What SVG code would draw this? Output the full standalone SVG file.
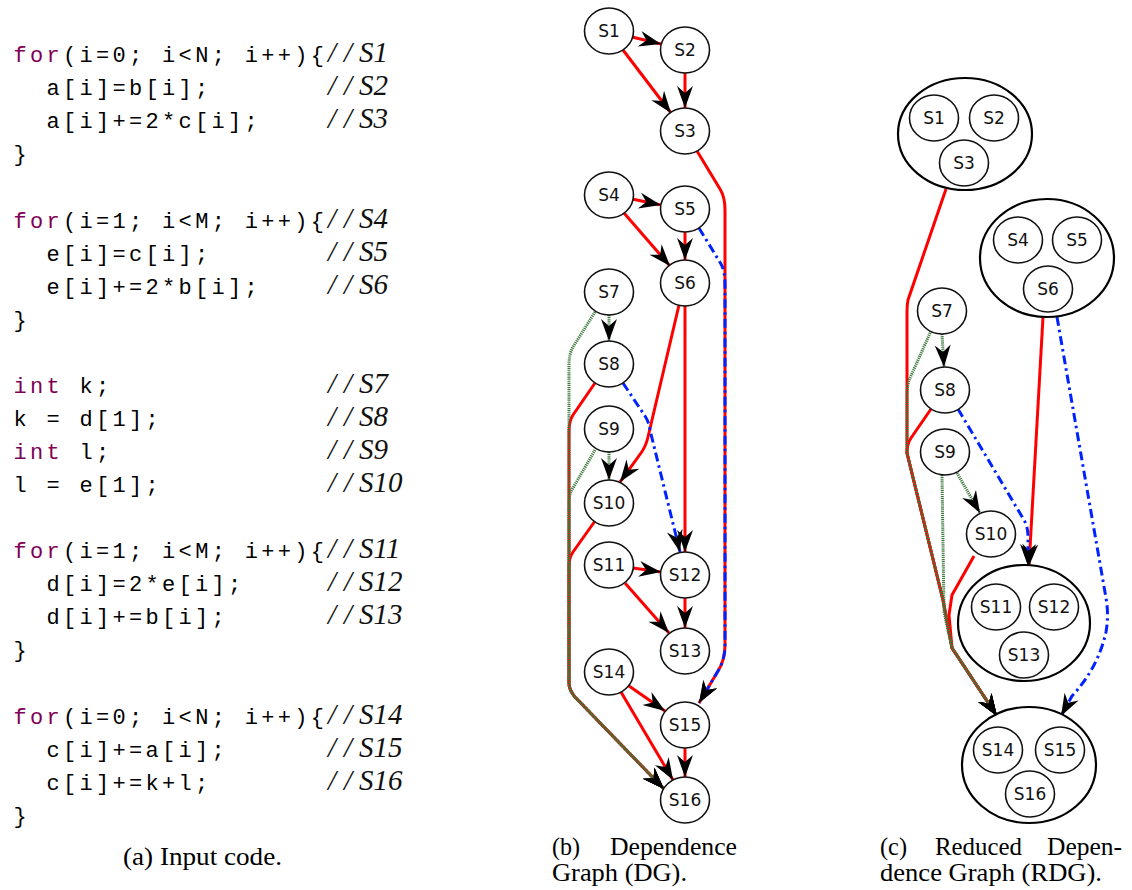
<svg xmlns="http://www.w3.org/2000/svg" width="1132" height="890" viewBox="0 0 1132 890">
<style>
.code{font-family:"Liberation Mono",monospace;font-size:22px;letter-spacing:3.3px;fill:#000}
.kw{fill:#7F0055}
.cm{font-family:"Liberation Serif",serif;font-style:italic;font-size:29px;fill:#111}
.cap{font-family:"Liberation Serif",serif;font-size:25px;fill:#000}
.n ellipse{fill:#fff;stroke:#111;stroke-width:1.6}
.n text{font-family:"DejaVu Sans",sans-serif;font-size:17px;text-anchor:middle;fill:#111}
.big{fill:#fff;stroke:#000;stroke-width:2.2}
.r{fill:none;stroke:#ff0000;stroke-width:3;marker-end:url(#arr)}
.bl{fill:none;stroke:#0022ff;stroke-width:3;stroke-dasharray:9 4 2.5 4;marker-end:url(#arr)}
.g{fill:none;stroke:#3c7a3c;stroke-width:3;stroke-dasharray:1.2 0.9;marker-end:url(#arr)}
</style>
<defs>
<marker id="arr" markerUnits="userSpaceOnUse" viewBox="-23 -9 24 18" refX="0" refY="0" markerWidth="24" markerHeight="18" orient="auto">
<path d="M0,0 L-22,-8 L-15,0 L-22,8 Z" fill="#000"/>
</marker>
</defs>
<rect width="1132" height="890" fill="#fff"/>

<g id="code">
<text class="code" x="13.6" y="62"><tspan class="kw">for</tspan>(i=0; i&lt;N; i++){</text>
<text class="code" x="46.6" y="95">a[i]=b[i];</text>
<text class="code" x="46.6" y="128">a[i]+=2*c[i];</text>
<text class="code" x="13.6" y="161">}</text>
<text class="code" x="13.6" y="228"><tspan class="kw">for</tspan>(i=1; i&lt;M; i++){</text>
<text class="code" x="46.6" y="261">e[i]=c[i];</text>
<text class="code" x="46.6" y="294">e[i]+=2*b[i];</text>
<text class="code" x="13.6" y="327">}</text>
<text class="code" x="13.6" y="393"><tspan class="kw">int</tspan> k;</text>
<text class="code" x="13.6" y="426">k = d[1];</text>
<text class="code" x="13.6" y="459"><tspan class="kw">int</tspan> l;</text>
<text class="code" x="13.6" y="492">l = e[1];</text>
<text class="code" x="13.6" y="558"><tspan class="kw">for</tspan>(i=1; i&lt;M; i++){</text>
<text class="code" x="46.6" y="591">d[i]=2*e[i];</text>
<text class="code" x="46.6" y="624">d[i]+=b[i];</text>
<text class="code" x="13.6" y="657">}</text>
<text class="code" x="13.6" y="724"><tspan class="kw">for</tspan>(i=0; i&lt;N; i++){</text>
<text class="code" x="46.6" y="757">c[i]+=a[i];</text>
<text class="code" x="46.6" y="790">c[i]+=k+l;</text>
<text class="code" x="13.6" y="823">}</text>
<text class="cm" x="328 344 359" y="62">//S1</text>
<text class="cm" x="328 344 359" y="95">//S2</text>
<text class="cm" x="328 344 359" y="128">//S3</text>
<text class="cm" x="328 344 359" y="228">//S4</text>
<text class="cm" x="328 344 359" y="261">//S5</text>
<text class="cm" x="328 344 359" y="294">//S6</text>
<text class="cm" x="328 344 359" y="393">//S7</text>
<text class="cm" x="328 344 359" y="426">//S8</text>
<text class="cm" x="328 344 359" y="459">//S9</text>
<text class="cm" x="328 344 359" y="492">//S10</text>
<text class="cm" x="328 344 359" y="558">//S11</text>
<text class="cm" x="328 344 359" y="591">//S12</text>
<text class="cm" x="328 344 359" y="624">//S13</text>
<text class="cm" x="328 344 359" y="724">//S14</text>
<text class="cm" x="328 344 359" y="757">//S15</text>
<text class="cm" x="328 344 359" y="790">//S16</text>
<text class="cap" x="123" y="865" textLength="159" lengthAdjust="spacingAndGlyphs">(a) Input code.</text>
</g>

<g id="dg-edges">
<path class="r" d="M632,37 L661,44"/>
<path class="r" d="M623,50 L671,113"/>
<path class="r" d="M685,73 L685,108"/>
<path class="r" d="M697,151 L720,189 Q725,197 725,210 L725,645 Q725,660 718,671 L699,703"/>
<path class="r" d="M632,199 L661,205"/>
<path class="r" d="M624,213 L670,266"/>
<path class="r" d="M685,232 L685,260"/>
<path class="r" d="M679,305 L648,437 Q646,446 641,453 L620,482"/>
<path class="r" d="M685,306 L685,552"/>
<path class="r" d="M595,383 L573,415 Q569,421 569,432 L569,683 Q569,690 575,697 L664,789"/>
<path class="r" d="M595,521 L573,552 Q569,558 569,566 L569,683 Q569,690 575,697 L664,789"/>
<path class="r" d="M633,568 L661,572"/>
<path class="r" d="M625,583 L669,633"/>
<path class="r" d="M685,598 L685,628"/>
<path class="r" d="M629,686 L665,711"/>
<path class="r" d="M621,692 L673,780"/>
<path class="r" d="M685,748 L685,777"/>
<path class="bl" d="M699,228 L721,264 Q725,271 725,285 L725,645 Q725,660 718,671 L699,703"/>
<path class="bl" d="M623,383 L645,416 Q649,422 650,430 L680,552"/>
<path class="g" d="M609,315 L609,341"/>
<path class="g" d="M609,452 L609,480"/>
<path class="g" d="M595,312 L573,347 Q569,354 569,365 L569,683 Q569,690 575,697 L664,789"/>
<path class="g" d="M595,450 L573,488 Q569,494 569,502 L569,683 Q569,690 575,697 L664,789"/>
</g>

<g id="dg-nodes">
<g id="b-S1" class="n"><ellipse cx="609" cy="31" rx="24.5" ry="23"/><text x="609" y="37">S1</text></g>
<g id="b-S2" class="n"><ellipse cx="685" cy="50" rx="24.5" ry="23"/><text x="685" y="56">S2</text></g>
<g id="b-S3" class="n"><ellipse cx="685" cy="131" rx="24.5" ry="23"/><text x="685" y="137">S3</text></g>
<g id="b-S4" class="n"><ellipse cx="609" cy="195" rx="24.5" ry="23"/><text x="609" y="201">S4</text></g>
<g id="b-S5" class="n"><ellipse cx="685" cy="209" rx="24.5" ry="23"/><text x="685" y="215">S5</text></g>
<g id="b-S6" class="n"><ellipse cx="685" cy="283" rx="24.5" ry="23"/><text x="685" y="289">S6</text></g>
<g id="b-S7" class="n"><ellipse cx="609" cy="292" rx="24.5" ry="23"/><text x="609" y="298">S7</text></g>
<g id="b-S8" class="n"><ellipse cx="609" cy="364" rx="24.5" ry="23"/><text x="609" y="370">S8</text></g>
<g id="b-S9" class="n"><ellipse cx="609" cy="429" rx="24.5" ry="23"/><text x="609" y="435">S9</text></g>
<g id="b-S10" class="n"><ellipse cx="609" cy="503" rx="24.5" ry="23"/><text x="609" y="509">S10</text></g>
<g id="b-S11" class="n"><ellipse cx="609" cy="565" rx="24.5" ry="23"/><text x="609" y="571">S11</text></g>
<g id="b-S12" class="n"><ellipse cx="685" cy="575" rx="24.5" ry="23"/><text x="685" y="581">S12</text></g>
<g id="b-S13" class="n"><ellipse cx="685" cy="651" rx="24.5" ry="23"/><text x="685" y="657">S13</text></g>
<g id="b-S14" class="n"><ellipse cx="609" cy="672" rx="24.5" ry="23"/><text x="609" y="678">S14</text></g>
<g id="b-S15" class="n"><ellipse cx="685" cy="725" rx="24.5" ry="23"/><text x="685" y="731">S15</text></g>
<g id="b-S16" class="n"><ellipse cx="685" cy="800" rx="24.5" ry="23"/><text x="685" y="806">S16</text></g>
</g>
<g id="cap-b">
<text class="cap" x="552" y="855" textLength="28" lengthAdjust="spacingAndGlyphs">(b)</text>
<text class="cap" x="610" y="855" textLength="127" lengthAdjust="spacingAndGlyphs">Dependence</text>
<text class="cap" x="552" y="881" textLength="135" lengthAdjust="spacingAndGlyphs">Graph (DG).</text>
</g>

<g id="rdg-edges">
<path class="r" d="M946,189 L908,300 Q907,305 907,312 L907,453 L943,600 L952,648 L997,716"/>
<path class="r" d="M931,409 L911,438 Q907,444 907,453 L943,600 L952,648 L997,716"/>
<path class="r" d="M974,556 L952,595 L949,615 L952,648 L997,716"/>
<path class="r" d="M1043,317 L1029,566"/>
<path class="bl" d="M958,409 L1024,520 Q1028,527 1028,536 L1028,566"/>
<path class="bl" d="M1057,317 L1106,598 Q1109,615 1106,632 Q1098,668 1072,696 L1061,716"/>
<path class="g" d="M942,334 L944,367"/>
<path class="g" d="M931,331 L910,378 Q907,385 907,395 L907,453 L943,600 L952,648 L997,716"/>
<path class="g" d="M957,473 L980,513"/>
<path class="g" d="M942,475 L944,612 L952,648 L997,716"/>
</g>

<g id="rdg-nodes">
<g id="c-G1">
<ellipse class="big" cx="965" cy="134" rx="67" ry="56"/>
<g id="c-S1" class="n"><ellipse cx="934" cy="118" rx="24.5" ry="23"/><text x="934" y="124">S1</text></g>
<g id="c-S2" class="n"><ellipse cx="994" cy="118" rx="24.5" ry="23"/><text x="994" y="124">S2</text></g>
<g id="c-S3" class="n"><ellipse cx="964" cy="163" rx="24.5" ry="23"/><text x="964" y="169">S3</text></g>
</g>
<g id="c-G2">
<ellipse class="big" cx="1047" cy="258" rx="67" ry="59"/>
<g id="c-S4" class="n"><ellipse cx="1018" cy="240" rx="24.5" ry="23"/><text x="1018" y="246">S4</text></g>
<g id="c-S5" class="n"><ellipse cx="1077" cy="240" rx="24.5" ry="23"/><text x="1077" y="246">S5</text></g>
<g id="c-S6" class="n"><ellipse cx="1048" cy="289" rx="24.5" ry="23"/><text x="1048" y="295">S6</text></g>
</g>
<g id="c-S7" class="n"><ellipse cx="942" cy="311" rx="24.5" ry="23"/><text x="942" y="317">S7</text></g>
<g id="c-S8" class="n"><ellipse cx="945" cy="390" rx="24.5" ry="23"/><text x="945" y="396">S8</text></g>
<g id="c-S9" class="n"><ellipse cx="945" cy="452" rx="24.5" ry="23"/><text x="945" y="458">S9</text></g>
<g id="c-S10" class="n"><ellipse cx="991" cy="534" rx="24.5" ry="23"/><text x="991" y="540">S10</text></g>
<g id="c-G3">
<ellipse class="big" cx="1024" cy="623" rx="66" ry="58"/>
<g id="c-S11" class="n"><ellipse cx="996" cy="607" rx="24.5" ry="23"/><text x="996" y="613">S11</text></g>
<g id="c-S12" class="n"><ellipse cx="1054" cy="607" rx="24.5" ry="23"/><text x="1054" y="613">S12</text></g>
<g id="c-S13" class="n"><ellipse cx="1024" cy="655" rx="24.5" ry="23"/><text x="1024" y="661">S13</text></g>
</g>
<g id="c-G4">
<ellipse class="big" cx="1029" cy="765" rx="67" ry="58"/>
<g id="c-S14" class="n"><ellipse cx="998" cy="750" rx="24.5" ry="23"/><text x="998" y="756">S14</text></g>
<g id="c-S15" class="n"><ellipse cx="1060" cy="750" rx="24.5" ry="23"/><text x="1060" y="756">S15</text></g>
<g id="c-S16" class="n"><ellipse cx="1030" cy="794" rx="24.5" ry="23"/><text x="1030" y="800">S16</text></g>
</g>
</g>
<g id="cap-c">
<text class="cap" x="880" y="855" textLength="27" lengthAdjust="spacingAndGlyphs">(c)</text>
<text class="cap" x="935" y="855" textLength="87" lengthAdjust="spacingAndGlyphs">Reduced</text>
<text class="cap" x="1047" y="855" textLength="75" lengthAdjust="spacingAndGlyphs">Depen-</text>
<text class="cap" x="880" y="881" textLength="222" lengthAdjust="spacingAndGlyphs">dence Graph (RDG).</text>
</g>
</svg>
